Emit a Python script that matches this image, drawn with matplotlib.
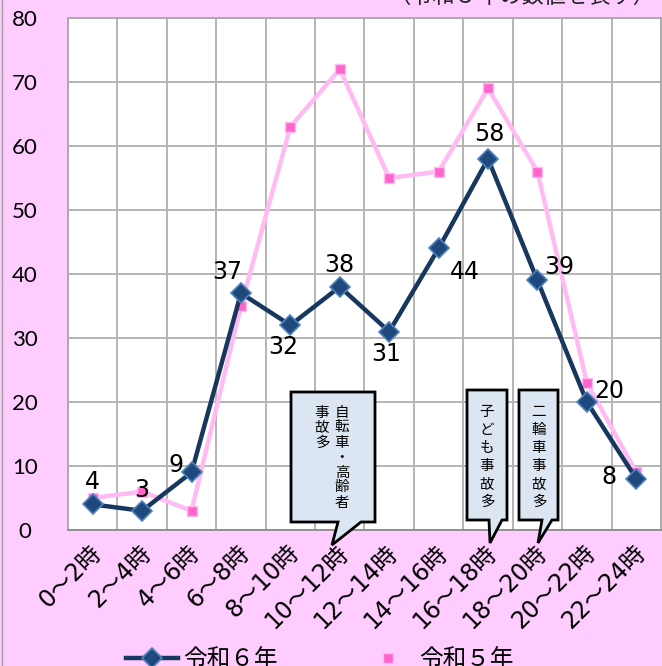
import numpy as np
import matplotlib
matplotlib.use("Agg")
import matplotlib.pyplot as plt
from matplotlib.lines import Line2D
from matplotlib.patches import Polygon
from matplotlib.transforms import Affine2D, ScaledTranslation

plt.rcParams['font.family'] = ['Noto Sans CJK JP', 'DejaVu Sans']
latin_first = ['DejaVu Sans', 'Noto Sans CJK JP']

# data
hours = ["0～2時", "2～4時", "4～6時", "6～8時", "8～10時", "10～12時",
         "12～14時", "14～16時", "16～18時", "18～20時", "20～22時", "22～24時"]
r6 = [4, 3, 9, 37, 32, 38, 31, 44, 58, 39, 20, 8]
r5 = [5, 6, 3, 35, 63, 72, 55, 56, 69, 56, 23, 9]

# label offsets for 令和6年 (points)
lab_off = [(0, 16), (0, 15), (-11, 5), (-10, 15), (-5, -16), (0, 16),
           (-2, -16), (19, -17), (1, 18), (16, 10), (16, 8), (-20, 1)]

W, H = 662, 666
bg = '#ffccff'
fig = plt.figure(figsize=(W / 100, H / 100), dpi=100, facecolor=bg)
ax = fig.add_axes([68 / W, (H - 530) / H, 593 / W, 512 / H])
ax.set_facecolor('white')

x = np.arange(len(hours))
ax.plot(x, r5, color='#ffbbf2', lw=3.2, marker='s', ms=6.5,
        mfc='#ff66cc', mec='#ffbbf2', mew=1, zorder=3)
ax.plot(x, r6, color='#17375e', lw=3.2, marker='D', ms=10,
        mfc='#1f497d', mec='#4f81bd', mew=1.2, zorder=4)

for xi, v, (dx, dy) in zip(x, r6, lab_off):
    ax.annotate(str(v), (xi, v), xytext=(dx, dy), textcoords='offset points',
                ha='center', va='center', fontsize=17,
                family=latin_first, color='black', zorder=6)

ax.set_xlim(-0.5, 11.5)
ax.set_ylim(0, 80)
ax.set_yticks(np.arange(0, 81, 10))
ax.set_xticks(x)
ax.set_xticks(np.arange(-0.5, 12, 1), minor=True)
ax.grid(True, which='major', axis='y', color='#b4b4b4', lw=1.4)
ax.grid(True, which='minor', axis='x', color='#b4b4b4', lw=1.4)
ax.set_axisbelow(True)
ax.tick_params(axis='both', which='both', length=0)
ax.tick_params(axis='y', pad=31, labelsize=16)
for t in ax.get_yticklabels():
    t.set_family(['Lato', 'DejaVu Sans'])
    t.set_horizontalalignment('center')
ax.set_xticklabels(hours, rotation=45, ha='right', va='center',
                   rotation_mode='anchor', fontsize=17, family=latin_first)
shift = ScaledTranslation(5 / 100, -14 / 100, fig.dpi_scale_trans)
for t in ax.get_xticklabels():
    t.set_transform(t.get_transform() + shift)
for s in ax.spines.values():
    s.set_color('#a6a6a6')
    s.set_linewidth(1.2)
ax.spines['bottom'].set_color('#868686')

# callout boxes (figure pixel coords, origin top-left)
pix = Affine2D().scale(1, -1).translate(0, H)
callouts = [
    ([(291, 392), (375, 392), (375, 522), (361, 522), (332, 545), (338, 522), (291, 522)],
     [("自転車・高齢者", 342), ("事故多", 322)], 405, 15),
    ([(467, 390), (507, 390), (507, 520), (502, 520), (490, 543), (489, 520), (467, 520)],
     [("子ども事故多", 487)], 403, 18),
    ([(519, 390), (558, 390), (558, 520), (552, 520), (538, 543), (542, 520), (519, 520)],
     [("二輪車事故多", 539)], 403, 18),
]
for pts, cols, ytop, step in callouts:
    fig.patches.append(Polygon(pts, closed=True, fc='#dce6f2', ec='black',
                               lw=2, transform=pix, zorder=10))
    for txt, cx in cols:
        for i, ch in enumerate(txt):
            fig.text(cx, ytop + step * i + step / 2, ch, transform=pix,
                     ha='center', va='center', fontsize=10.5, zorder=11)

# clipped note at the top
fig.text(655, 3, "（令和５年の数値を表す）", transform=pix, ha='right',
         va='baseline', fontsize=16, color='#222222')

# left border line
fig.add_artist(Line2D([2, 2], [0, H], transform=pix, color='#a0a0a0', lw=1))

handles = [
    Line2D([], [], color='#17375e', lw=3.2, marker='D', ms=10,
           mfc='#1f497d', mec='#4f81bd', mew=1.2),
    Line2D([], [], ls='none', marker='s', ms=6.5, mfc='#ff66cc', mec='#ffbbf2'),
]
fig.legend(handles, ["令和６年", "令和５年"], loc='center',
           bbox_to_anchor=(320 / W, 6 / H), ncol=2, frameon=False,
           fontsize=17, handlelength=2.2, handletextpad=0.2,
           columnspacing=3.6)

fig.savefig("out.png", dpi=100, facecolor=bg)
